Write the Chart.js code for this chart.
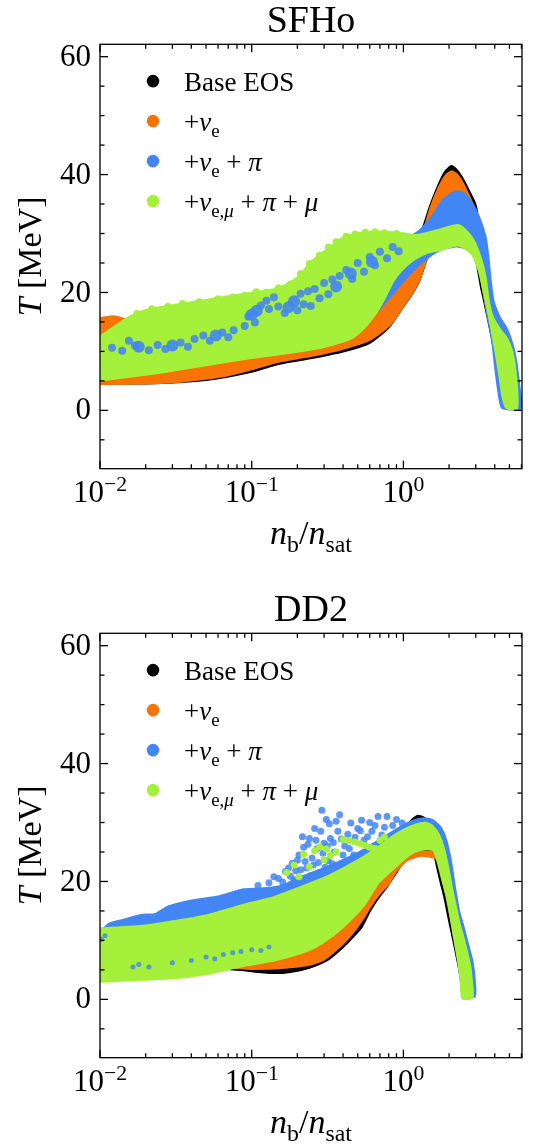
<!DOCTYPE html>
<html>
<head>
<meta charset="utf-8">
<script src="https://cdn.jsdelivr.net/npm/chart.js@4.4.1/dist/chart.umd.min.js"></script>
<style>
  html, body { margin: 0; padding: 0; background: #fff; width: 540px; height: 1146px; overflow: hidden; }
  canvas { position: absolute; left: 0; display: block; }
  #sfho { top: 0; }
  #dd2 { top: 589px; }
</style>
</head>
<body>
<canvas id="sfho" width="540" height="589"></canvas>
<canvas id="dd2" width="540" height="557"></canvas>
<script>
// ---- axis ticks ----
const xMajorTicks = [0.01, 0.1, 1];
const xTickExponents = ['\u22122', '\u22121', '0'];
const xMinorTicks = [0.02, 0.03, 0.04, 0.05, 0.06, 0.07, 0.08, 0.09,
                     0.2, 0.3, 0.4, 0.5, 0.6, 0.7, 0.8, 0.9, 2, 3, 4, 5, 6];
const yMajorTicks = [0, 20, 40, 60];
const yMinorTicks = [-5, 5, 10, 15, 25, 30, 35, 45, 50, 55];

// ---- legend entries (text runs: it = italic, sub = subscript) ----
const seriesNames = [
  [{ t: 'Base EOS' }],
  [{ t: '+' }, { t: '\u03bd', it: 1 }, { t: 'e', sub: 1 }],
  [{ t: '+' }, { t: '\u03bd', it: 1 }, { t: 'e', sub: 1 }, { t: ' + ' }, { t: '\u03c0', it: 1 }],
  [{ t: '+' }, { t: '\u03bd', it: 1 }, { t: 'e,', sub: 1 }, { t: '\u03bc', it: 1, sub: 1 },
   { t: ' + ' }, { t: '\u03c0', it: 1 }, { t: ' + ' }, { t: '\u03bc', it: 1 }]
];
const seriesColors = ['#000000', '#f97306', '#4285f4', '#a5f03a'];

// ---- SFHo: outlines of the (n_b/n_sat, T [MeV]) point clouds ----
const sfhoBase = [[0.01,13],[0.1,15],[0.3,17],[0.6,20],[0.9,23],[1.2,27.5],[1.38,31.7],[1.5,34.6],[1.7,38.1],[1.88,40.4],[2.07,41.4],[2.25,40.7],[2.45,39.3],[2.69,37.3],[2.97,35],[3.12,32],[3.28,27],[3.42,22.5],[3.56,18.5],[3.8,15],[4.25,12.5],[4.85,10],[5.25,6],[5.4,2],[5.3,0.5],[4.8,0.3],[4.5,2.5],[4.28,6],[4.0,10],[3.72,14],[3.45,18],[3.25,21],[3.1,24],[2.9,27],[1.6,28.5],[1.4,25.2],[1.26,21.8],[1.12,19.5],[0.98,17.4],[0.8,14.1],[0.6,11.5],[0.4,10.0],[0.25,8.9],[0.15,7.9],[0.1,6.6],[0.05,5.2],[0.02,4.6],[0.01,4.6]];
const sfhoNuE = [[0.01,15.6],[0.0125,15.9],[0.0155,15.2],[0.019,13.8],[0.05,14],[0.1,15],[0.3,17],[0.6,20],[0.9,23],[1.2,27.5],[1.41,31.7],[1.52,34.5],[1.72,37.9],[1.9,39.8],[2.07,40.5],[2.25,40],[2.45,38.6],[2.65,36.8],[2.9,34.5],[3.05,31.5],[3.22,26.5],[3.38,22],[3.52,18.5],[3.78,15],[4.2,12.5],[4.8,10],[5.2,6],[5.35,2],[5.25,0.6],[4.85,0.6],[4.55,3],[4.2,8],[3.88,13],[3.56,17],[3.36,20.5],[3.2,24],[2.98,27],[1.62,28.3],[1.41,25.5],[1.27,22.1],[1.14,19.9],[1.0,17.8],[0.82,14.6],[0.6,12.0],[0.4,10.5],[0.25,9.3],[0.15,8.3],[0.1,7.0],[0.07,6.0],[0.05,5.4],[0.03,4.8],[0.02,4.6],[0.01,4.5]];
const sfhoNuEPi = [[0.01,12.5],[0.02,15],[0.05,17],[0.1,18.5],[0.2,21],[0.3,24],[0.5,27],[0.8,28.5],[1.1,29.5],[1.27,30.4],[1.55,32.9],[1.83,35.7],[2.2,37.1],[2.5,36.8],[2.8,35.3],[3.14,32.8],[3.47,29.4],[3.62,26],[3.75,22],[3.92,18.5],[4.3,15.8],[4.8,13.8],[5.25,11],[5.55,8],[5.8,4],[5.95,1],[5.85,0.2],[5.0,0.2],[4.45,0.5],[4.25,3],[4.05,7],[3.85,12],[3.6,16],[3.4,20],[3.2,23.5],[2.9,26.8],[2.3,27.9],[1.7,27.1],[1.3,25],[1.0,22],[0.8,19],[0.6,15.5],[0.4,12.8],[0.2,11],[0.1,10],[0.05,9],[0.02,8],[0.01,7.5]];
const sfhoAll = [[0.01,12.5],[0.013,14.5],[0.016,16],[0.02,17],[0.03,17.8],[0.05,18.7],[0.07,19.3],[0.1,19.9],[0.15,20.7],[0.2,22.5],[0.25,25.3],[0.33,27.7],[0.4,29.3],[0.5,30],[0.7,30.3],[1.0,30],[1.21,29.7],[1.72,30.6],[2.3,31.4],[2.69,30],[2.97,28.3],[3.26,25.5],[3.47,22.6],[3.62,19],[3.85,16],[4.3,13.8],[4.8,12.2],[5.2,10],[5.45,7],[5.62,3],[5.6,0.3],[5.2,0.2],[4.75,0.5],[4.5,2.5],[4.3,6],[4.05,10],[3.8,14],[3.5,18.5],[3.3,21.5],[3.14,23.8],[2.82,26.6],[2.3,28],[1.72,27.2],[1.45,26.8],[1.16,25.5],[0.95,23.5],[0.85,21.8],[0.75,19],[0.65,16.3],[0.55,14],[0.45,12.2],[0.3,10.8],[0.2,10],[0.1,8.9],[0.05,7.7],[0.023,6.3],[0.01,5.1]];
// +nu_e+pi points showing through the muon cloud (small and large clumps)
const sfhoNuEPiBlobs = [[0.012,10.6],[0.014,10.1],[0.0155,11.8],[0.017,11.0],[0.021,10.2],[0.024,11.1],[0.027,10.4],[0.034,11.5],[0.038,10.8],[0.042,12.1],[0.048,12.7],[0.053,11.8],[0.064,13.2],[0.07,12.4],[0.076,13.6],[0.09,14.3],[0.095,15.9],[0.105,14.9],[0.115,17.8],[0.125,18.6],[0.13,17.2],[0.14,19.2],[0.15,17.6],[0.165,16.5],[0.2,17.0],[0.21,19.8],[0.22,18.0],[0.235,20.2],[0.245,17.7],[0.26,20.6],[0.28,19.0],[0.3,21.6],[0.32,19.7],[0.34,22.2],[0.38,22.8],[0.42,23.8],[0.46,22.3],[0.5,25.0],[0.55,23.5],[0.6,26.0],[0.65,24.6],[0.7,26.9],[0.78,25.8],[0.85,27.7],[0.93,27.0]];
const sfhoNuEPiClumps = [[0.018,10.8],[0.03,11.0],[0.058,12.7],[0.1,16.2],[0.108,16.9],[0.175,17.5],[0.19,18.5],[0.36,21.0],[0.45,23.2],[0.62,25.2]];
// sparse upper edge of the muon cloud
const sfhoAllEdge = [[0.0175,16.4],[0.022,17.2],[0.028,17.6],[0.035,18.1],[0.045,18.4],[0.06,18.9],[0.075,19.2],[0.09,19.5],[0.107,20.1],[0.125,20.0],[0.15,20.8],[0.18,21.4],[0.21,23.2],[0.24,24.9],[0.28,26.3],[0.32,27.7],[0.36,28.6],[0.42,29.5],[0.48,29.9],[0.56,30.2],[0.65,30.3],[0.75,30.1],[0.9,30.0]];

// ---- DD2 ----
const dd2Base = [[0.01,8],[0.1,10],[0.3,14],[0.6,20],[0.85,25],[1.0,28],[1.12,30.2],[1.245,31.1],[1.38,30.7],[1.5,29.3],[1.62,27.3],[1.75,24.8],[1.87,22],[2.0,18.5],[2.12,15],[2.25,12],[2.38,9],[2.5,6],[2.6,3],[2.62,0.5],[2.47,0.5],[2.42,3],[2.28,6.5],[2.14,10],[2.0,13.5],[1.88,17],[1.76,20],[1.66,22.8],[1.6,24.3],[1.3,24.6],[1.1,24.2],[1.0,23.4],[0.89,21.4],[0.78,19.2],[0.68,17.2],[0.6,15],[0.53,12.3],[0.46,10.5],[0.4,8.9],[0.32,6.8],[0.24,5.4],[0.18,4.7],[0.143,4.5],[0.11,4.7],[0.085,5.0],[0.05,5.5],[0.01,6]];
const dd2NuE = [[0.01,7],[0.1,9.5],[0.3,13],[0.6,19],[0.85,23],[1.0,24.2],[1.15,24.8],[1.3,25.0],[1.5,25.0],[1.62,24.8],[1.75,24],[1.88,21],[2.0,18],[2.12,15],[2.25,12],[2.38,9],[2.5,6],[2.6,3],[2.62,0.5],[2.46,0.5],[2.43,3],[2.34,6.5],[2.22,10],[2.1,13.5],[1.97,17],[1.84,20.2],[1.72,22.8],[1.64,24.0],[1.3,24.4],[1.15,24.0],[1.04,23.5],[0.9,21.8],[0.8,19.7],[0.68,17.6],[0.6,15.6],[0.55,14.0],[0.47,11.5],[0.4,9.5],[0.3,6.8],[0.24,5.9],[0.15,5.3],[0.1,5.2],[0.085,5.3],[0.05,5.6],[0.01,6]];
const dd2NuEPi = [[0.01,11.3],[0.0115,12.8],[0.014,13.4],[0.019,14.3],[0.023,14.4],[0.028,15.7],[0.035,16.4],[0.044,16.9],[0.06,17.4],[0.087,18.6],[0.12,18.8],[0.16,19.3],[0.2,20.5],[0.3,22.2],[0.5,24.8],[0.8,28],[1.05,29.8],[1.2,30.4],[1.35,30.7],[1.55,30.4],[1.75,29.2],[1.9,27.2],[2.05,23.5],[2.18,19],[2.32,15],[2.5,12],[2.68,9],[2.85,6.3],[2.95,3],[2.95,0.5],[2.5,0.3],[2.4,3],[2.3,7],[2.15,11],[2.02,15],[1.9,19],[1.78,22.5],[1.66,25.3],[1.3,25.5],[1.0,24],[0.8,22],[0.6,18],[0.4,14],[0.2,10],[0.1,8],[0.05,6.5],[0.01,5]];
const dd2All = [[0.01,12.0],[0.02,12.5],[0.03,13.2],[0.05,14.2],[0.085,15.9],[0.14,17.3],[0.2,18.8],[0.3,20.6],[0.4,22.2],[0.55,24.2],[0.7,26.0],[0.85,27.6],[1.0,28.7],[1.2,29.6],[1.4,29.9],[1.55,29.4],[1.72,27.8],[1.86,25.2],[1.98,22],[2.08,19],[2.2,16],[2.33,13],[2.48,10.5],[2.62,8],[2.75,5.6],[2.82,3],[2.85,0.3],[2.45,0.2],[2.4,3],[2.3,6.5],[2.18,10],[2.05,14],[1.93,17.4],[1.8,20.5],[1.68,23.5],[1.58,25.3],[1.4,25.5],[1.2,25.1],[1.05,24.2],[0.98,23.5],[0.8,21.5],[0.68,19.7],[0.55,16],[0.4,12.3],[0.3,9.8],[0.24,8.4],[0.15,6.8],[0.085,5.6],[0.05,4.3],[0.03,3.6],[0.01,3.0]];
// scattered hot +nu_e+pi points above the main band
const dd2NuEPiScatter = [[0.11,19.3],[0.13,19.8],[0.14,20.8],[0.15,20.5],[0.16,19.9],[0.167,21.7],[0.175,22.3],[0.18,20.9],[0.185,23.1],[0.19,20.3],[0.195,21.8],[0.2,23.6],[0.205,24.5],[0.21,22.0],[0.216,27.6],[0.22,25.8],[0.225,23.4],[0.23,22.3],[0.235,26.3],[0.24,27.3],[0.245,21.0],[0.25,24.0],[0.255,22.8],[0.26,29.0],[0.265,27.0],[0.27,25.6],[0.275,23.2],[0.28,21.5],[0.285,28.5],[0.29,32.1],[0.295,24.8],[0.30,26.5],[0.305,22.4],[0.31,30.5],[0.315,26.0],[0.32,23.5],[0.325,29.8],[0.33,27.3],[0.34,23.0],[0.345,26.6],[0.35,25.0],[0.36,30.2],[0.37,28.5],[0.38,31.3],[0.39,27.2],[0.4,24.5],[0.41,26.0],[0.43,28.0],[0.44,25.6],[0.45,29.9],[0.47,24.5],[0.48,27.5],[0.5,29.0],[0.52,28.6],[0.53,30.4],[0.55,27.0],[0.58,27.6],[0.6,30.0],[0.62,28.5],[0.65,29.5],[0.68,31.0],[0.72,27.9],[0.75,29.2],[0.78,31.0],[0.85,29.5],[0.9,30.5],[0.98,29.9]];
const dd2NuEPiSpeckle = [[0.0102,10.2],[0.0108,10.8],[0.0165,5.5],[0.018,5.9],[0.021,5.5],[0.03,6.2],[0.04,6.6],[0.05,7.2],[0.057,6.9],[0.065,7.6],[0.075,7.9],[0.085,8.1],[0.1,8.4],[0.115,8.3],[0.13,8.9]];
const dd2AllScatter = [[0.17,21.5],[0.19,22.8],[0.205,20.8],[0.22,24.6],[0.24,22.5],[0.26,25.2],[0.28,25.9],[0.3,23.7],[0.31,25.5],[0.33,24.4],[0.36,25],[0.4,27.1],[0.44,26.9],[0.48,26.7],[0.52,26.4],[0.56,26.1],[0.6,25.8],[0.65,25.6],[0.7,27],[0.75,27.5]];

// ---- helpers ----
const SERIF = '"Liberation Serif", "DejaVu Serif", serif';
const pts = arr => arr.map(([x, y]) => ({ x, y }));

function cloud(points, color, order) {
  return { data: pts(points), order, borderColor: color, backgroundColor: color,
           borderWidth: 2.5, pointRadius: 0, fill: 'shape', tension: 0.2,
           borderJoinStyle: 'round' };
}
function dots(points, color, order, r) {
  return { data: pts(points), order, showLine: false, fill: false, pointRadius: r,
           pointBackgroundColor: color, pointBorderWidth: 0, borderColor: color };
}

function runFont(r, base) {
  const size = (r.sub || r.sup) ? base * 0.7 : base;
  return (r.it ? 'italic ' : '') + size + 'px ' + SERIF;
}
function runsWidth(ctx, runs, base) {
  let w = 0;
  for (const r of runs) { ctx.font = runFont(r, base); w += ctx.measureText(r.t).width; }
  return w;
}
function drawRuns(ctx, runs, x, y, base, align) {
  let cx = align === 'center' ? x - runsWidth(ctx, runs, base) / 2 : x;
  for (const r of runs) {
    ctx.font = runFont(r, base);
    const dy = r.sub ? base * 0.22 : (r.sup ? -base * 0.33 : 0);
    ctx.fillText(r.t, cx, y + dy);
    cx += ctx.measureText(r.t).width;
  }
}

// frame, inward ticks, labels, title and legend
const decor = {
  id: 'decor',
  afterDraw(chart, args, opts) {
    const { ctx, chartArea: a } = chart;
    const xs = chart.scales.x, ys = chart.scales.y;
    ctx.save();
    ctx.strokeStyle = '#000'; ctx.fillStyle = '#000'; ctx.lineWidth = 1.3;
    ctx.strokeRect(a.left, a.top, a.right - a.left, a.bottom - a.top);
    const tick = (x1, y1, x2, y2) => { ctx.beginPath(); ctx.moveTo(x1, y1); ctx.lineTo(x2, y2); ctx.stroke(); };
    xMajorTicks.forEach(v => { const p = xs.getPixelForValue(v); tick(p, a.bottom, p, a.bottom - 8); tick(p, a.top, p, a.top + 8); });
    xMinorTicks.forEach(v => { const p = xs.getPixelForValue(v); tick(p, a.bottom, p, a.bottom - 4.5); tick(p, a.top, p, a.top + 4.5); });
    yMajorTicks.forEach(v => { const p = ys.getPixelForValue(v); tick(a.left, p, a.left + 8, p); tick(a.right, p, a.right - 8, p); });
    yMinorTicks.forEach(v => { const p = ys.getPixelForValue(v); tick(a.left, p, a.left + 4.5, p); tick(a.right, p, a.right - 4.5, p); });

    // y tick labels
    ctx.textAlign = 'right'; ctx.textBaseline = 'middle';
    ctx.font = '31px ' + SERIF;
    yMajorTicks.forEach(v => ctx.fillText(String(v), a.left - 9, ys.getPixelForValue(v) + 1));
    // x tick labels 10^k
    ctx.textAlign = 'left'; ctx.textBaseline = 'alphabetic';
    xMajorTicks.forEach((v, i) => {
      const p = xs.getPixelForValue(v);
      drawRuns(ctx, [{ t: '10' }, { t: xTickExponents[i], sup: 1 }], p, a.bottom + 33, 31, 'center');
    });
    // axis titles
    const cxA = (a.left + a.right) / 2, cyA = (a.top + a.bottom) / 2;
    drawRuns(ctx, [{ t: 'n', it: 1 }, { t: 'b', sub: 1 }, { t: '/' }, { t: 'n', it: 1 }, { t: 'sat', sub: 1 }],
             cxA, a.bottom + 75.5, 34, 'center');
    ctx.save();
    ctx.translate(41, cyA);
    ctx.rotate(-Math.PI / 2);
    drawRuns(ctx, [{ t: 'T', it: 1 }, { t: ' [MeV]' }], 0, 0, 34, 'center');
    ctx.restore();
    // panel title
    ctx.font = '38px ' + SERIF; ctx.textAlign = 'center';
    ctx.fillText(opts.title, cxA, 32);
    // legend
    ctx.textAlign = 'left';
    seriesNames.forEach((runs, i) => {
      const cy = a.top + 36.8 + 40 * i;
      ctx.fillStyle = seriesColors[i];
      ctx.beginPath(); ctx.arc(a.left + 53, cy, 6.3, 0, Math.PI * 2); ctx.fill();
      ctx.fillStyle = '#000';
      drawRuns(ctx, runs, a.left + 84, cy + 9.5, 27, 'left');
    });
    ctx.restore();
  }
};

function makePanel(id, title, datasets, xAxisHeight) {
  return new Chart(document.getElementById(id), {
    type: 'line',
    data: { datasets },
    options: {
      responsive: false, animation: false, events: [],
      layout: { padding: { top: 44.3, right: 18, left: 0, bottom: 0 } },
      scales: {
        x: { type: 'logarithmic', min: 0.01, max: 6.05,
             grid: { display: false }, border: { display: false }, ticks: { display: false },
             afterFit: s => { s.height = xAxisHeight; } },
        y: { type: 'linear', min: -9.9, max: 62.1,
             grid: { display: false }, border: { display: false }, ticks: { display: false },
             afterFit: s => { s.width = 100; } }
      },
      plugins: { legend: { display: false }, tooltip: { enabled: false }, decor: { title } }
    },
    plugins: [decor]
  });
}

const [cBlack, cOrange, cBlue, cGreen] = seriesColors;

makePanel('sfho', 'SFHo', [
  cloud(sfhoBase, cBlack, 40),
  cloud(sfhoNuE, cOrange, 30),
  cloud(sfhoNuEPi, cBlue, 20),
  cloud(sfhoAll, cGreen, 10),
  dots(sfhoNuEPiClumps, 'rgba(66,133,244,0.9)', 9, 6),
  dots(sfhoNuEPiBlobs, 'rgba(66,133,244,0.85)', 8, 4),
  dots(sfhoAllEdge, cGreen, 5, 3.6)
], 120.3);

makePanel('dd2', 'DD2', [
  cloud(dd2Base, cBlack, 40),
  cloud(dd2NuE, cOrange, 30),
  dots(dd2NuEPiScatter, 'rgba(66,133,244,0.85)', 25, 3.5),
  cloud(dd2NuEPi, cBlue, 20),
  cloud(dd2All, cGreen, 10),
  dots(dd2NuEPiSpeckle, 'rgba(66,133,244,0.8)', 8, 2.5),
  dots(dd2AllScatter, cGreen, 5, 3.5)
], 88.3);
</script>
</body>
</html>
